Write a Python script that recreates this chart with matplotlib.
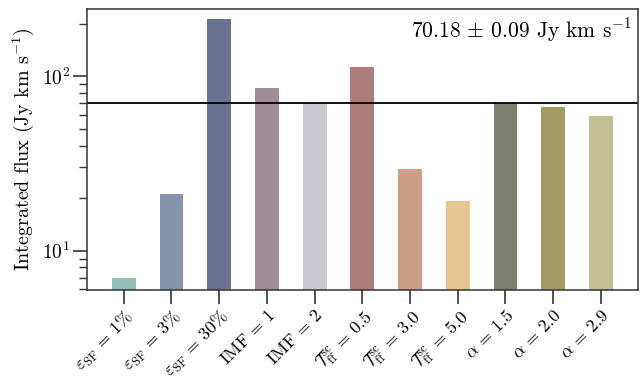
import matplotlib
matplotlib.use("Agg")
import matplotlib.pyplot as plt
import matplotlib.transforms as mtransforms
from matplotlib.ticker import LogLocator, NullFormatter

plt.rcParams['font.family'] = 'serif'
plt.rcParams['font.serif'] = ['cmr10', 'DejaVu Serif']
plt.rcParams['mathtext.fontset'] = 'cm'
plt.rcParams['axes.formatter.use_mathtext'] = True

labels = [r'$\varepsilon_{\rm SF}\,=\,1\%$', r'$\varepsilon_{\rm SF}\,=\,3\%$',
          r'$\varepsilon_{\rm SF}\,=\,30\%$', r'$\mathrm{IMF}\,=\,1$', r'$\mathrm{IMF}\,=\,2$',
          r'$\mathcal{T}_{\rm ff}^{\rm sc}\,=\,0.5$', r'$\mathcal{T}_{\rm ff}^{\rm sc}\,=\,3.0$',
          r'$\mathcal{T}_{\rm ff}^{\rm sc}\,=\,5.0$',
          r'$\alpha\,=\,1.5$', r'$\alpha\,=\,2.0$', r'$\alpha\,=\,2.9$']
flux = [7.0, 21.1, 212.0, 86.0, 70.5, 112.5, 29.5, 19.2, 70.5, 66.5, 59.0]
colors = ['#96beb9', '#8494aa', '#69738f', '#a08d97', '#cac8cf', '#ad7d7b',
          '#cc9e84', '#e8c694', '#7d7f6f', '#a19b63', '#c2bf92']
reference_flux = 70.18
reference_err = 0.09

fig = plt.figure(figsize=(6.43, 3.79), dpi=100)
ax = fig.add_axes([0.135, 0.235, 0.857, 0.741])

x = range(len(flux))
ax.bar(x, flux, width=0.5, color=colors)
ax.set_yscale('log')
ax.set_ylim(5.95, 242)
ax.axhline(reference_flux, color='black', lw=1.3)

ax.set_xticks(list(x))
ax.set_xticklabels(labels, rotation=45, ha='right', va='top',
                   rotation_mode='anchor', fontsize=13)
shift = mtransforms.ScaledTranslation(6 / 100, 4 / 100, fig.dpi_scale_trans)
for lab in ax.get_xticklabels():
    lab.set_transform(lab.get_transform() + shift)
ax.yaxis.set_minor_locator(LogLocator(base=10, subs=range(2, 10)))
ax.yaxis.set_minor_formatter(NullFormatter())
ax.tick_params(axis='both', which='major', direction='out', length=10, width=1.2,
               color='#333333')
ax.tick_params(axis='x', which='major', pad=2)
ax.tick_params(axis='y', which='major', labelsize=14, pad=2)
ax.tick_params(axis='y', which='minor', direction='out', length=6, width=1.0, color='#333333')
for s in ax.spines.values():
    s.set_linewidth(1.1)
    s.set_color('#333333')

ax.set_ylabel(r'Integrated flux (Jy km s$^{-1}$)', fontsize=14.5, labelpad=4)
ax.text(0.988, 0.975, r'$70.18\,\pm\,0.09$ Jy km s$^{-1}$', transform=ax.transAxes,
        ha='right', va='top', fontsize=15.5)

fig.savefig('out.png', dpi=100)
